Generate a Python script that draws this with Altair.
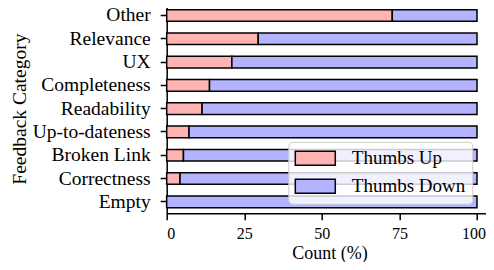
import altair as alt
import pandas as pd

categories = ["Other", "Relevance", "UX", "Completeness", "Readability",
              "Up-to-dateness", "Broken Link", "Correctness", "Empty"]
thumbs_up = [72.7, 29.5, 21.0, 13.8, 11.4, 7.2, 5.4, 4.3, 0.0]
thumbs_down = [27.3, 70.5, 79.0, 86.2, 88.6, 92.8, 94.6, 95.7, 100.0]
series = ["Thumbs Up", "Thumbs Down"]
colors = ["#ffb3b3", "#b3b3ff"]
x_ticks = [0, 25, 50, 75, 100]

rows = []
for c, u, d in zip(categories, thumbs_up, thumbs_down):
    rows.append({"cat": c, "type": series[0], "value": u, "ord": 0})
    rows.append({"cat": c, "type": series[1], "value": d, "ord": 1})
df = pd.DataFrame(rows)

FONT = "Liberation Serif"
# wide legend swatch: path scaled by sqrt(size)/2 = 5 -> 40 x 14 px
rect_path = "M-4,-1.4L4,-1.4L4,1.4L-4,1.4Z"
NBSP = "\u00a0"

chart = alt.Chart(df).mark_bar(stroke="black", strokeWidth=1.5).encode(
    x=alt.X("value:Q", stack="zero",
            scale=alt.Scale(domain=[0, 102.9], nice=False, zero=True),
            axis=alt.Axis(values=x_ticks, title="Count (%)", grid=False,
                          tickSize=6.5, tickWidth=1.5, domainWidth=1.5,
                          domainColor="black", tickColor="black",
                          labelFontSize=16, labelPadding=5.5, labelColor="black",
                          labelOffset={"condition": {"test": "datum.value === 100",
                                                     "value": -3.5},
                                       "value": 0},
                          titleFontSize=18, titleFontWeight="normal",
                          titleColor="black", titleX=162.8, titleY=44.7,
                          titleBaseline="alphabetic")),
    y=alt.Y("cat:N", sort=categories,
            scale=alt.Scale(paddingInner=0.5, paddingOuter=0.2435),
            axis=alt.Axis(title="Feedback Category", grid=False,
                          tickSize=6.5, tickWidth=1.5, domainWidth=1.5,
                          domainColor="black", tickColor="black",
                          labelFontSize=19.5, labelPadding=10, labelColor="black",
                          titleFontSize=19.5, titleFontWeight="normal",
                          titleColor="black", titleX=-141,
                          titleBaseline="alphabetic")),
    color=alt.Color("type:N",
                    scale=alt.Scale(domain=series, range=colors),
                    legend=alt.Legend(orient="none", legendX=121.6, legendY=137.8,
                                      title=None, symbolType=rect_path,
                                      symbolSize=100, symbolStrokeColor="black",
                                      symbolStrokeWidth=1.5, symbolOpacity=1,
                                      symbolOffset=10.5,
                                      labelFontSize=19, labelColor="black",
                                      labelOffset=27, padding=7, rowPadding=7,
                                      labelExpr="datum.label + '" + NBSP * 2 + "'",
                                      fillColor="rgba(255,255,255,0.8)",
                                      strokeColor="#cccccc", cornerRadius=4)),
    order=alt.Order("ord:Q"),
).properties(
    width=319.3, height=209.3,
    autosize=alt.AutoSizeParams(type="none"),
    padding={"left": 158.7, "top": -4, "right": 0, "bottom": 48.7},
).configure(
    font=FONT,
).configure_view(
    stroke=None,
)

chart.save("out.html", embed_options={"renderer": "svg", "actions": False})
